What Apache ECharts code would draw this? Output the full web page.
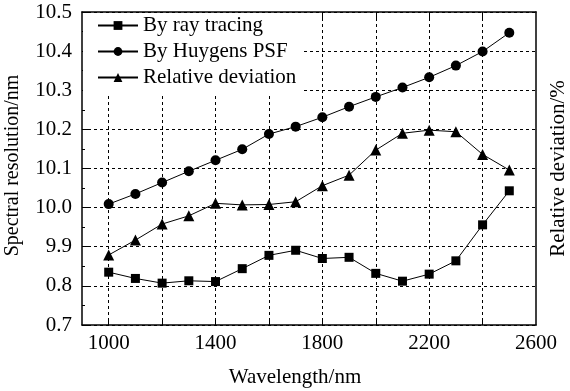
<!DOCTYPE html>
<html>
<head>
<meta charset="utf-8">
<script src="https://cdn.jsdelivr.net/npm/echarts@6/dist/echarts.min.js"></script>
<style>
  html, body { margin: 0; padding: 0; background: #fff; }
  #chart { width: 570px; height: 391px; }
</style>
</head>
<body>
<div id="chart"></div>
<script>
const wavelengths = [1000, 1100, 1200, 1300, 1400, 1500, 1600, 1700, 1800, 1900, 2000, 2100, 2200, 2300, 2400, 2500];
const rayTracing = [9.835, 9.819, 9.807, 9.813, 9.811, 9.844, 9.878, 9.891, 9.870, 9.873, 9.832, 9.812, 9.830, 9.864, 9.956, 10.043];
const huygensPsf = [10.009, 10.035, 10.064, 10.093, 10.121, 10.149, 10.188, 10.207, 10.231, 10.258, 10.283, 10.307, 10.333, 10.363, 10.399, 10.447];
const relativeDeviation = [9.879, 9.917, 9.958, 9.979, 10.011, 10.007, 10.008, 10.015, 10.056, 10.083, 10.147, 10.190, 10.198, 10.194, 10.136, 10.096];

const xTickValues = [1000, 1200, 1400, 1600, 1800, 2000, 2200, 2400];
const xLabelValues = [1000, 1400, 1800, 2200, 2600];
const yTickValues = [9.7, 9.8, 9.9, 10.0, 10.1, 10.2, 10.3, 10.4, 10.5];
const yTickLabels = ['0.7', '0.8', '9.9', '10.0', '10.1', '10.2', '10.3', '10.4', '10.5'];

const font = '"Liberation Serif", "DejaVu Serif", serif';
const ink = '#000';
const dashed = { color: ink, width: 1, type: [3, 3] };

const pairs = (ys) => wavelengths.map((x, i) => [x, ys[i]]);

const chart = echarts.init(document.getElementById('chart'));

const xBase = {
  type: 'value',
  min: 900,
  max: 2600,
  interval: 200,
  axisLine: { show: true, lineStyle: { color: ink, width: 1.5 } },
  axisTick: { show: true, inside: true, length: 6, customValues: xTickValues, lineStyle: { color: ink } },
  minorTick: { show: true, splitNumber: 2, length: 3, lineStyle: { color: ink } },
};

chart.setOption({
  animation: false,
  textStyle: { fontFamily: font },
  grid: { left: 82, right: 34, top: 12, bottom: 66, containLabel: false, outerBoundsMode: 'none' },
  legend: {
    orient: 'vertical',
    left: 83,
    top: 13,
    padding: [2, 6, 5, 14],
    itemGap: 5,
    itemWidth: 40,
    itemHeight: 11,
    backgroundColor: '#fff',
    textStyle: { fontFamily: font, fontSize: 21, color: ink },
    data: ['By ray tracing', 'By Huygens PSF', 'Relative deviation'],
  },
  xAxis: [
    Object.assign({}, xBase, {
      position: 'bottom',
      name: 'Wavelength/nm',
      nameLocation: 'middle',
      nameGap: 42,
      nameTextStyle: { fontFamily: font, fontSize: 21, color: ink, padding: [0, 28, 0, 0] },
      axisLabel: {
        customValues: xLabelValues,
        margin: 8,
        fontFamily: font,
        fontSize: 21,
        color: ink,
        formatter: (v) => String(v),
      },
      splitLine: { show: true, lineStyle: dashed },
    }),
    Object.assign({}, xBase, {
      position: 'top',
      axisLabel: { show: false },
      splitLine: { show: false },
    }),
  ],
  yAxis: [
    {
      type: 'value',
      position: 'left',
      min: 9.7,
      max: 10.5,
      interval: 0.1,
      name: 'Spectral resolution/nm',
      nameLocation: 'middle',
      nameGap: 59,
      nameTextStyle: { fontFamily: font, fontSize: 20, color: ink, padding: [0, 0, 0, 6] },
      axisLine: { show: true, lineStyle: { color: ink, width: 1.5 } },
      axisTick: { show: true, inside: true, length: 6, lineStyle: { color: ink } },
      minorTick: { show: true, splitNumber: 2, length: 3, lineStyle: { color: ink } },
      axisLabel: {
        margin: 10,
        fontFamily: font,
        fontSize: 21,
        color: ink,
        formatter: (v) => {
          let best = 0;
          yTickValues.forEach((t, i) => {
            if (Math.abs(t - v) < Math.abs(yTickValues[best] - v)) best = i;
          });
          return yTickLabels[best];
        },
      },
      splitLine: { show: true, lineStyle: dashed },
    },
    {
      type: 'value',
      position: 'right',
      min: 9.7,
      max: 10.5,
      interval: 0.1,
      name: 'Relative deviation/%',
      nameLocation: 'middle',
      nameRotate: 90,
      nameGap: 12,
      nameTextStyle: { fontFamily: font, fontSize: 21, color: ink },
      axisLine: { show: true, lineStyle: { color: ink, width: 1.5 } },
      axisTick: { show: false },
      axisLabel: { show: false },
      splitLine: { show: false },
    },
  ],
  series: [
    {
      name: 'By ray tracing',
      type: 'line',
      data: pairs(rayTracing),
      symbol: 'rect',
      symbolSize: 9,
      itemStyle: { color: ink },
      lineStyle: { color: ink, width: 1 },
    },
    {
      name: 'By Huygens PSF',
      type: 'line',
      data: pairs(huygensPsf),
      symbol: 'circle',
      symbolSize: 10,
      itemStyle: { color: ink },
      lineStyle: { color: ink, width: 1 },
    },
    {
      name: 'Relative deviation',
      type: 'line',
      yAxisIndex: 1,
      data: pairs(relativeDeviation),
      symbol: 'triangle',
      symbolSize: 11,
      itemStyle: { color: ink },
      lineStyle: { color: ink, width: 1 },
    },
  ],
});

window.addEventListener('resize', () => chart.resize());
</script>
</body>
</html>
